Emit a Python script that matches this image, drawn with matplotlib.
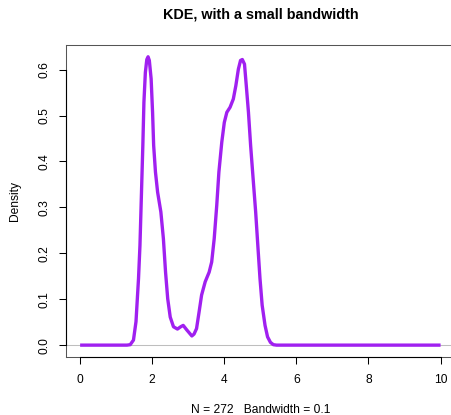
import matplotlib
matplotlib.use("Agg")
import matplotlib.pyplot as plt

plt.rcParams['font.family'] = ['Liberation Sans', 'DejaVu Sans']

# Data (density curve)
x_vals = [0, 1.30, 1.39, 1.48, 1.55, 1.62, 1.66, 1.70, 1.74, 1.77, 1.81, 1.85,
          1.885, 1.92, 1.97, 2.01, 2.04, 2.09, 2.15, 2.24, 2.31, 2.37, 2.43,
          2.50, 2.59, 2.70, 2.79, 2.86, 2.96, 3.10, 3.16, 3.23, 3.30, 3.37,
          3.47, 3.58, 3.65, 3.72, 3.79, 3.85, 3.93, 4.00, 4.07, 4.16, 4.25,
          4.32, 4.39, 4.45, 4.50, 4.56, 4.61, 4.67, 4.73, 4.80, 4.87, 4.93,
          4.99, 5.05, 5.13, 5.20, 5.28, 5.36, 5.45, 10]
density = [0, 0, 0.001, 0.011, 0.051, 0.145, 0.217, 0.326, 0.435, 0.529, 0.594,
           0.622, 0.628, 0.620, 0.580, 0.507, 0.435, 0.377, 0.333, 0.290, 0.232,
           0.159, 0.101, 0.061, 0.040, 0.035, 0.040, 0.043, 0.033, 0.020, 0.024,
           0.036, 0.072, 0.109, 0.138, 0.159, 0.181, 0.232, 0.304, 0.377, 0.442,
           0.485, 0.507, 0.518, 0.536, 0.565, 0.601, 0.620, 0.622, 0.612, 0.565,
           0.507, 0.435, 0.362, 0.290, 0.217, 0.145, 0.087, 0.043, 0.018, 0.006,
           0.001, 0, 0]
x_ticks = [0, 2, 4, 6, 8, 10]
y_ticks = [0.0, 0.1, 0.2, 0.3, 0.4, 0.5, 0.6]
y_tick_labels = ["0.0", "0.1", "0.2", "0.3", "0.4", "0.5", "0.6"]
title = "KDE, with a small bandwidth"
x_label = "N = 272   Bandwidth = 0.1"
y_label = "Density"

W, H = 452, 415
fig = plt.figure(figsize=(W / 100, H / 100), dpi=100)
left, right, bottom, top = 65.7, 455.0, 356.7, 44.7
ax = fig.add_axes([left / W, 1 - bottom / H, (right - left) / W, (bottom - top) / H])

ax.axhline(0, color='#BEBEBE', lw=0.75, zorder=1)
ax.plot(x_vals, density, color='#A020F0', lw=2.4, zorder=3,
        solid_joinstyle='round', solid_capstyle='butt')

ax.set_xlim(-0.4, 10.4)
ax.set_ylim(-0.0252, 0.6543)

ax.set_xticks(x_ticks)
ax.set_xticklabels([str(t) for t in x_ticks])
ax.set_yticks(y_ticks)
ax.set_yticklabels(y_tick_labels, rotation=90, va='center')

fs = 8.64
ax.tick_params(axis='x', direction='out', length=5.2, width=0.75, pad=7.5,
               labelsize=fs, colors='black')
ax.tick_params(axis='y', direction='out', length=5.2, width=0.75, pad=5.4,
               labelsize=fs, colors='black')

for s in ax.spines.values():
    s.set_color('#555555')
    s.set_linewidth(0.75)

# axis lines spanning tick range (R style)
ax.plot([x_ticks[0], x_ticks[-1]], [0, 0], transform=ax.get_xaxis_transform(),
        color='black', lw=0.8, clip_on=False, zorder=5)
ax.plot([0, 0], [y_ticks[0], y_ticks[-1]], transform=ax.get_yaxis_transform(),
        color='black', lw=0.8, clip_on=False, zorder=5)

cx = (left + 455.0) / 2 / W
fig.text(cx, 1 - 14.5 / H, title, ha='center', va='center',
         fontsize=10.37, fontweight='bold')
fig.text(cx, 1 - 409.5 / H, x_label, ha='center', va='center', fontsize=fs)
fig.text(15 / W, 1 - 200.7 / H, y_label, ha='center', va='center',
         rotation=90, fontsize=fs)

fig.savefig("out.png", dpi=100)
